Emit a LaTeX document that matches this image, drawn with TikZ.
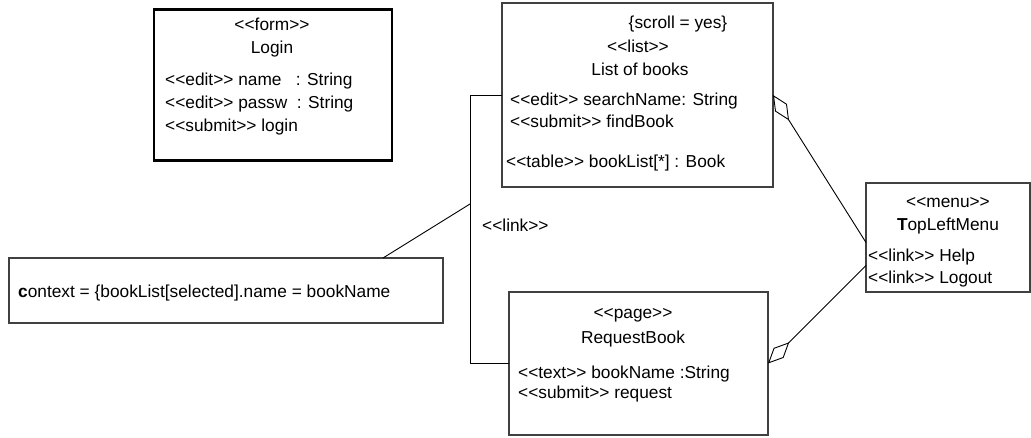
\documentclass[tikz,border=0pt]{standalone}
\usepackage{fontspec}
\setmainfont{Liberation Sans}[Ligatures=TeXOff]
\usetikzlibrary{arrows.meta,calc}
\begin{document}
\begin{tikzpicture}[x=1pt,y=-1pt,
  lbl/.style={anchor=base west,inner sep=0pt,font=\fontsize{17.3}{20}\selectfont},
  clbl/.style={anchor=base,inner sep=0pt,font=\fontsize{17.3}{20}\selectfont},
  uibox/.style={draw=black!75,line width=1.1pt,anchor=north west,inner sep=0pt,outer sep=0pt},
  conn/.style={draw=black,line width=0.9pt},
  agg/.style={conn,{Diamond[open,length=30pt,width=14pt]}-}]
\useasboundingbox (0,0) rectangle (1031,438);

% boxes
\node[uibox,line width=2.4pt,draw=black,minimum width=238pt,minimum height=151pt] (login) at (154,9.5) {};
\node[uibox,minimum width=271pt,minimum height=184pt] (list) at (502,3) {};
\node[uibox,minimum width=164pt,minimum height=109pt] (menu) at (866,183) {};
\node[uibox,minimum width=434pt,minimum height=65pt] (ctx) at (9,258) {};
\node[uibox,minimum width=259pt,minimum height=143pt] (req) at (509,292) {};

% Login form
\node[clbl] (loginst) at (272,31) {<<form>>};
\node[clbl] (loginnm) at (272,54) {Login};
\node[lbl] (loginf1) at (165,86) {<<edit>> name \ \ : String};
\node[lbl] (loginf2) at (165,109) {<<edit>> passw \ : String};
\node[lbl] (loginf3) at (165,132) {<<submit>> login};

% List of books
\node[clbl] (listtag) at (678,29) {\{scroll = yes\}};
\node[clbl] (listst) at (638,53) {<<list>>};
\node[clbl] (listnm) at (640,76) {List of books};
\node[lbl] (listf1) at (510,106) {<<edit>> searchName: String};
\node[lbl] (listf2) at (510,128) {<<submit>> findBook};
\node[lbl] (listf3) at (506,168) {<<table>> bookList[*] : Book};

% Menu
\node[clbl] (menust) at (948,208) {<<menu>>};
\node[clbl] (menunm) at (948,231) {\textbf{T}opLeftMenu};
\node[lbl] (menuf1) at (868,262) {<<link>> Help};
\node[lbl] (menuf2) at (868,284) {<<link>> Logout};

% Request page
\node[clbl] (reqst) at (633,319) {<<page>>};
\node[clbl] (reqnm) at (633,344) {RequestBook};
\node[lbl] (reqf1) at (518,378) {<<text>> bookName :String};
\node[lbl] (reqf2) at (518,399) {<<submit>> request};

% context note
\node[lbl] (ctxtxt) at (18,298) {\textbf{c}ontext = \{bookList[selected].name = bookName};

% link between list and request page
\coordinate (bend) at ($(list.west)+(-32,0)$);
\coordinate (junc) at ($(bend)+(0,109)$);
\draw[conn] (list.west) -- (bend) |- (req.west);
\node[lbl] (linklbl) at (482,232) {<<link>>};

% note attachment
\draw[conn] ($(ctx.north west)+(374,0)$) -- (junc);

% aggregations towards the menu
\draw[agg] (list.east) -- ($(menu.west)+(0,5)$);
\draw[agg] (req.east) -- ($(menu.west)+(0,28)$);
\end{tikzpicture}
\end{document}
